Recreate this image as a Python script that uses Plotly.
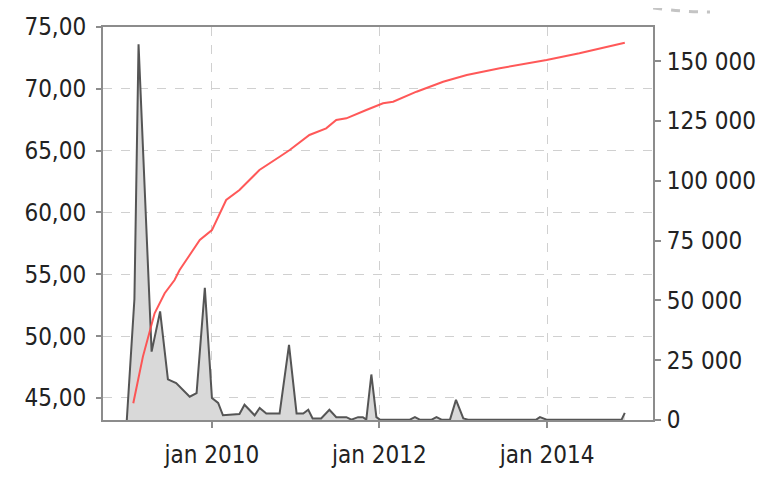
import plotly.graph_objects as go

# grey area series (left axis)
area_dates = [
    "2008-12-25", "2009-01-28", "2009-02-15", "2009-04-13", "2009-05-20",
    "2009-06-23", "2009-07-29", "2009-09-26", "2009-10-26", "2009-12-01",
    "2010-01-01", "2010-01-28", "2010-02-18", "2010-05-01", "2010-05-23",
    "2010-07-06", "2010-07-28", "2010-08-26", "2010-10-23", "2010-12-03",
    "2011-01-05", "2011-02-03", "2011-02-25", "2011-03-16", "2011-04-22",
    "2011-05-28", "2011-06-27", "2011-08-10", "2011-09-01", "2011-09-30",
    "2011-10-21", "2011-11-05", "2011-11-27", "2011-12-19", "2012-01-03",
    "2012-05-13", "2012-06-04", "2012-06-25", "2012-08-16", "2012-09-06",
    "2012-09-28", "2012-11-04", "2012-11-30", "2013-01-01", "2013-01-22",
    "2013-11-15", "2013-12-01", "2013-12-30", "2014-11-22", "2014-12-06",
]
area_values = [
    43.0, 53.0, 73.6, 48.75, 52.0,
    46.5, 46.2, 45.1, 45.4, 53.9,
    45.0, 44.6, 43.6, 43.7, 44.45,
    43.6, 44.2, 43.75, 43.75, 49.3,
    43.75, 43.75, 44.05, 43.35, 43.35,
    44.05, 43.45, 43.45, 43.25, 43.45,
    43.45, 43.25, 46.9, 43.45, 43.25,
    43.25, 43.45, 43.25, 43.25, 43.45,
    43.25, 43.25, 44.85, 43.35, 43.25,
    43.25, 43.45, 43.25, 43.25, 43.8,
]

# red cumulative line (right axis)
line_dates = [
    "2009-01-23", "2009-03-06", "2009-04-26", "2009-06-09", "2009-07-22",
    "2009-08-13", "2009-09-26", "2009-11-09", "2010-01-01", "2010-02-05",
    "2010-03-04", "2010-05-01", "2010-07-27", "2010-10-23", "2010-12-06",
    "2011-03-02", "2011-05-14", "2011-06-27", "2011-08-10", "2011-11-05",
    "2012-01-17", "2012-03-01", "2012-06-11", "2012-10-05", "2013-01-16",
    "2013-06-09", "2013-12-30", "2014-05-22", "2014-12-06",
]
line_values = [
    7000, 26500, 44600, 53000, 58500,
    62700, 69000, 75250, 79400, 86100,
    91970, 96150, 104500, 110070, 112870,
    119150, 121940, 125420, 126130, 129600,
    132400, 133070, 137250, 141430, 144230,
    147030, 150500, 153300, 157730,
]

x_tickvals = ["2010-01-01", "2012-01-01", "2014-01-01"]
x_ticktext = ["jan 2010", "jan 2012", "jan 2014"]

font = dict(family="DejaVu Sans Condensed, DejaVu Sans, sans-serif", size=24, color="#222")
axis_col = "#8c8c8c"
grid_col = "#d0d0d0"

fig = go.Figure()
fig.add_trace(go.Scatter(x=area_dates, y=area_values, mode="lines", fill="tozeroy",
                         line=dict(color="#555555", width=2), fillcolor="#d9d9d9"))
fig.add_trace(go.Scatter(x=line_dates, y=line_values, mode="lines", yaxis="y2",
                         line=dict(color="rgba(255,70,70,0.9)", width=2)))

# page body has an 8px margin, so the figure is a bit smaller than the window
fig.update_layout(
    width=771, height=469,
    margin=dict(l=95, r=126, t=19, b=57),
    paper_bgcolor="white", plot_bgcolor="white",
    showlegend=False, font=font, separators=", ",
    xaxis=dict(type="date", range=["2008-09-13", "2015-04-08"],
               tickvals=x_tickvals, ticktext=x_ticktext, automargin=False,
               showline=True, linecolor=axis_col, linewidth=2, mirror=True,
               ticks="outside", ticklen=6, tickcolor=axis_col, tickwidth=2,
               ticklabelstandoff=6,
               showgrid=True, gridcolor=grid_col, griddash="dash", gridwidth=1,
               zeroline=False),
    yaxis=dict(range=[43.22, 75.0], tick0=45, dtick=5, tickformat=",.2f",
               automargin=False,
               showline=True, linecolor=axis_col, linewidth=2, mirror=True,
               ticks="outside", ticklen=5, tickcolor=axis_col, tickwidth=2,
               ticklabelstandoff=5,
               showgrid=True, gridcolor=grid_col, griddash="dash", gridwidth=1,
               zeroline=False),
    yaxis2=dict(range=[0, 164300], tick0=0, dtick=25000, tickformat=",",
                overlaying="y", side="right", showgrid=False, zeroline=False,
                automargin=False,
                showline=True, linecolor=axis_col, linewidth=2,
                ticks="outside", ticklen=6, tickcolor=axis_col, tickwidth=2,
                ticklabelstandoff=1),
)

# dashed arc peeking in at the top right corner
fig.add_shape(type="path", xref="paper", yref="paper",
              path="M 0.9036,1.0738 Q 1.0127,1.0382 1.1036,1.0382",
              line=dict(color="#c4c4c4", width=3, dash="dash"))

fig.write_html("out.html")
